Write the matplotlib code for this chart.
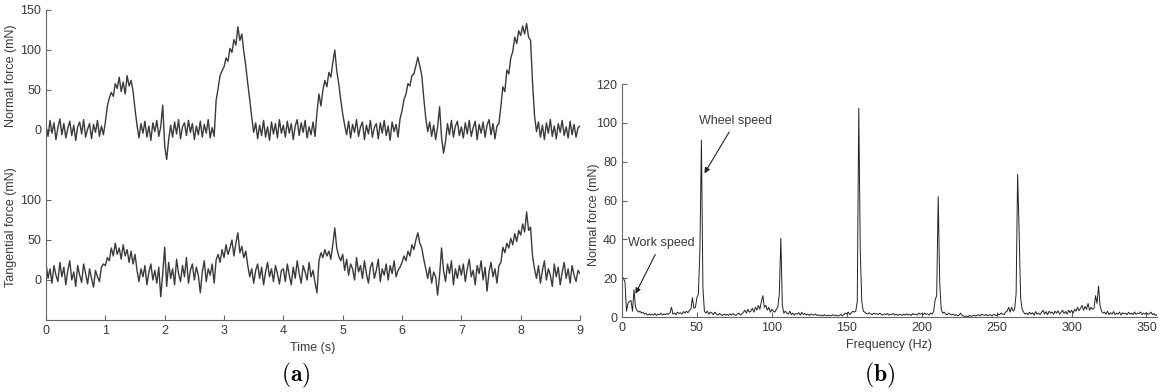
import numpy as np
import matplotlib
matplotlib.use("Agg")
import matplotlib.pyplot as plt

plt.rcParams['font.family'] = ['Liberation Sans', 'DejaVu Sans']
plt.rcParams['mathtext.fontset'] = 'cm'

# normal force (mN), 30 samples per second, 0..9 s
normal = [
    5, -8, 12, -4, 9, -12, 3, 14, -6, 8, -10, 2, 11, -7, 6, -13, 4, 10, -5, 13, -9, 1, 8, -11, 7, -3, 12, -8, 5, -6,
    10, 30, 40, 47, 42, 58, 52, 66, 48, 60, 45, 68, 55, 62, 48, 26, 6, -10, 8, -4, 11, -9, 5, -13, 9, -2, 12, -8, 4, 31,
    -20, -37, -12, 6, -9, 10, -5, 13, -11, 4, 9, -7, 12, -3, 8, -12, 5, -6, 11, -9, 7, -4, 13, -10, 3, -8, 37, 52, 68, 74,
    79, 90, 86, 102, 97, 113, 106, 129, 112, 120, 98, 80, 58, 38, 16, -3, 9, -11, 6, -7, 12, -9, 4, -13, 10, -5, 8, -10, 13, -4,
    6, -9, 11, -4, 8, -12, 5, 13, -7, 9, -3, 12, -10, 4, -6, 10, -8, 22, 45, 30, 50, 62, 54, 72, 66, 84, 100, 74, 58, 38,
    20, 6, -6, 11, -10, 7, -3, 13, -8, 4, 10, -12, 6, -5, 12, -9, 3, 8, -11, 9, -4, 12, -7, 5, -13, 10, -2, 7, -9, 14,
    24, 38, 45, 58, 55, 68, 70, 80, 91, 80, 68, 40, 15, -2, 10, -8, 6, -12, 4, 29, -10, -29, -14, 8, -6, 12, -9, 5, 11, -7,
    4, -10, 9, -5, 12, -8, 3, 11, -12, 7, -4, 10, -9, 6, 13, -6, 8, -11, 5, 8, 30, 54, 48, 75, 70, 90, 98, 116, 108, 124,
    118, 130, 120, 133, 116, 112, 60, 18, -2, 10, -9, 6, -12, 9, -4, 13, -8, 5, -11, 8, -3, 12, -7, 4, -10, 11, -6, 7, -9, 3,
    5,
]

# tangential force (mN), same sampling
tangential = [
    20, 2, 14, -4, 18, 6, -2, 22, 4, 16, -6, 12, 24, 0, 10, -8, 18, 6, -3, 20, 8, -5, 14, 2, -9, 12, 4, -2, 16, 20,
    18, 28, 24, 40, 30, 46, 32, 40, 26, 44, 30, 38, 22, 36, 20, 32, 12, -2, 14, 4, 18, -6, 10, 20, 0, 12, -4, 16, -21, 8,
    41, -8, 22, 2, 14, -6, 26, 8, -2, 18, 4, 28, -4, 12, 20, 0, 16, 6, -16, 10, 24, -2, 14, 6, 20, -4, 25, 32, 22, 38,
    28, 44, 32, 40, 50, 30, 46, 59, 34, 42, 28, 36, 18, 4, 14, -4, 12, 20, 2, 16, -6, 10, 22, 4, 14, -2, 18, 8, -5, 12,
    14, -2, 20, 6, -6, 16, 2, 24, 8, -4, 18, 10, 0, 22, 4, 12, -3, -16, 24, 34, 28, 38, 30, 36, 26, 44, 65, 40, 30, 24,
    32, 12, 26, 6, 20, 14, 0, 28, 10, 18, 2, 24, 8, -4, 16, 22, 2, 12, 26, -2, 14, 6, 20, 0, 18, 8, 24, 4, 12, 16,
    22, 30, 24, 36, 30, 44, 38, 50, 59, 46, 40, 26, 14, 2, 16, -4, 10, 4, -19, 6, 40, 12, -2, 20, 8, 24, -6, 14, 2, 18,
    6, 20, -2, 14, 26, 4, 12, -6, 18, 8, 24, 0, 16, -14, 10, 22, 4, 14, -4, 18, 22, 41, 34, 46, 40, 52, 44, 58, 48, 62,
    56, 70, 60, 85, 62, 66, 30, 14, 2, 18, -4, 12, 24, 0, 14, 6, -8, 20, 4, 16, -6, 10, 22, 2, 14, -4, 18, 6, -2, 12,
    8,
]

# spectrum of normal force (mN), 1 Hz steps from 0 Hz
spectrum = [
    20.5, 20, 18, 3, 7, 8, 8.5, 3, 14, 5,
    3.5, 2.5, 3, 2, 2.5, 1.5, 2, 1, 1.5, 1,
    1.5, 1, 1.8, 0.8, 1.5, 1.2, 2, 1, 1.6, 1.2,
    1.8, 1.4, 2.2, 5, 1.5, 2, 1.2, 2.5, 1.8, 2.2,
    1.5, 2.8, 2, 3, 2.2, 3.5, 4, 10, 4.5, 5,
    10, 12, 35, 91, 15, 3, 2, 3, 1.5, 2.5,
    2, 1.2, 2.5, 1.5, 1, 1.8, 1.2, 0.8, 1.5, 1,
    1.4, 0.8, 1.6, 1, 1.8, 1.2, 0.8, 1.5, 2, 1,
    1.5, 2.5, 3.5, 2, 4, 2.5, 3, 4.5, 2.5, 5,
    3.5, 6, 4, 8, 11, 5, 6, 3.5, 5, 2.5,
    4, 3, 2.5, 4, 5, 12, 40.5, 6, 2, 3,
    2, 1.5, 3, 1.2, 2, 1, 1.8, 1.5, 2.2, 1,
    2.5, 1.2, 1.8, 1, 1.5, 0.8, 1.6, 1.2, 1, 1.5,
    0.8, 1.2, 0.6, 1, 0.5, 1.2, 0.8, 0.6, 1, 0.5,
    0.8, 1.2, 0.6, 1, 0.5, 0.8, 1.4, 0.6, 1.2, 2,
    1.5, 2.5, 1.2, 2, 3, 2.5, 3, 8, 107.5, 34,
    8, 3, 2.5, 1.8, 1.5, 2.2, 1.6, 1.2, 2, 1.5,
    1.8, 1.2, 2, 1.4, 1, 1.6, 1.2, 1.8, 1, 1.5,
    1.2, 1.8, 1, 1.5, 0.8, 1.4, 1.2, 0.8, 1.5, 1,
    1.6, 1, 1.4, 0.8, 1.8, 1.2, 1.5, 1, 2, 1.4,
    1.8, 1.2, 2, 1.4, 1.6, 1, 2, 1.5, 3, 9,
    11, 62, 18, 4, 2, 2.5, 1.5, 1.2, 2, 1.5,
    1, 1.5, 0.8, 1.2, 0.6, 1, 2, 0.8, 0.5, 0.3,
    0.5, 0.2, 0.8, 0.4, 0.6, 1, 0.5, 0.8, 1.2, 0.6,
    1.5, 1, 0.8, 1.4, 0.6, 1, 1.2, 0.5, 1.4, 1,
    0.8, 1.5, 1.2, 2, 1.5, 1.2, 2.5, 3, 5, 2.5,
    5, 3, 4, 12, 73.5, 44, 10, 4, 2.5, 1.5,
    2, 1.2, 2.5, 1.5, 2.2, 1, 2.8, 1.5, 2, 1.2,
    2.5, 3.5, 1.5, 2.8, 1.2, 3, 2, 2.6, 1.4, 3,
    2, 3.2, 1.5, 2.5, 3.5, 1.8, 2.8, 1.5, 3.5, 2.2,
    3.5, 2, 4, 3, 5, 3.2, 4.5, 6, 3.5, 5.5,
    4, 7, 3.5, 5, 4, 4.5, 11, 7, 16, 6,
    3, 2, 2.5, 1.5, 3, 1.2, 2.2, 1.5, 2.8, 1.2,
    2, 1.5, 2.5, 1, 2.2, 1.6, 2, 1.2, 2.4, 1.5,
    2, 1.2, 2.6, 1.4, 2, 1.8, 2.6, 1.2, 2, 1.5,
    2.2, 1.4, 1.8, 2.5, 1.2, 1.8, 0.8, 1.2,
]

t = np.linspace(0, 9, len(normal))
freq = np.arange(len(spectrum))

txt = '#3a3a3a'
spine = '#666666'
fs = 9

def style(ax):
    for s in ['top', 'right']:
        ax.spines[s].set_visible(False)
    for s in ['left', 'bottom']:
        ax.spines[s].set_color(spine)
        ax.spines[s].set_linewidth(0.8)
    ax.tick_params(direction='in', length=3.5, width=0.8, color=spine,
                   labelsize=fs, labelcolor=txt)

fig = plt.figure(figsize=(11.6, 3.92), dpi=100)

ax_n = fig.add_axes([0.0397, 0.5536, 0.4603, 0.4209])
ax_t = fig.add_axes([0.0397, 0.1837, 0.4603, 0.3699])
ax_s = fig.add_axes([0.5362, 0.1913, 0.4612, 0.5944])

for ax in (ax_n, ax_t, ax_s):
    style(ax)

ax_n.plot(t, normal, color='#3a3a3a', lw=1.0)
ax_n.set_xlim(0, 9)
ax_n.set_ylim(-56.25, 150)
ax_n.set_yticks([0, 50, 100, 150])
ax_n.spines['bottom'].set_visible(False)
ax_n.xaxis.set_visible(False)
ax_n.set_ylabel('Normal force (mN)', fontsize=fs, color=txt)
ax_n.yaxis.set_label_coords(-0.054, 0.6)

ax_t.plot(t, tangential, color='#3a3a3a', lw=1.0)
ax_t.set_xlim(0, 9)
ax_t.set_ylim(-50, 131.25)
ax_t.set_yticks([0, 50, 100])
ax_t.set_xticks(range(10))
ax_t.set_xlabel('Time (s)', fontsize=fs, color=txt, labelpad=4)
ax_t.set_ylabel('Tangential force (mN)', fontsize=fs, color=txt)
ax_t.yaxis.set_label_coords(-0.054, 0.64)

ax_s.plot(freq, spectrum, color='#222222', lw=0.7)
ax_s.set_xlim(0, 357)
ax_s.set_ylim(0, 120)
ax_s.set_xticks(range(0, 351, 50))
ax_s.set_yticks(range(0, 121, 20))
ax_s.set_xlabel('Frequency (Hz)', fontsize=fs, color=txt, labelpad=4)
ax_s.set_ylabel('Normal force (mN)', fontsize=fs, color=txt)
ax_s.yaxis.set_label_coords(-0.041, 0.44)

arrow = dict(arrowstyle='-|>', color='#222222', lw=0.8, mutation_scale=8, shrinkA=2, shrinkB=0)
ax_s.annotate('Wheel speed', xy=(55, 74), xytext=(76, 101), fontsize=fs, color=txt,
              ha='center', va='center', arrowprops=arrow)
ax_s.annotate('Work speed', xy=(9, 12), xytext=(26, 38), fontsize=fs, color=txt,
              ha='center', va='center', arrowprops=arrow)

fig.text(0.255, 0.043, r'$\mathbf{(a)}$', fontsize=17, ha='center', va='center')
fig.text(0.7586, 0.043, r'$\mathbf{(b)}$', fontsize=17, ha='center', va='center')

fig.savefig('out.png', dpi=100)
